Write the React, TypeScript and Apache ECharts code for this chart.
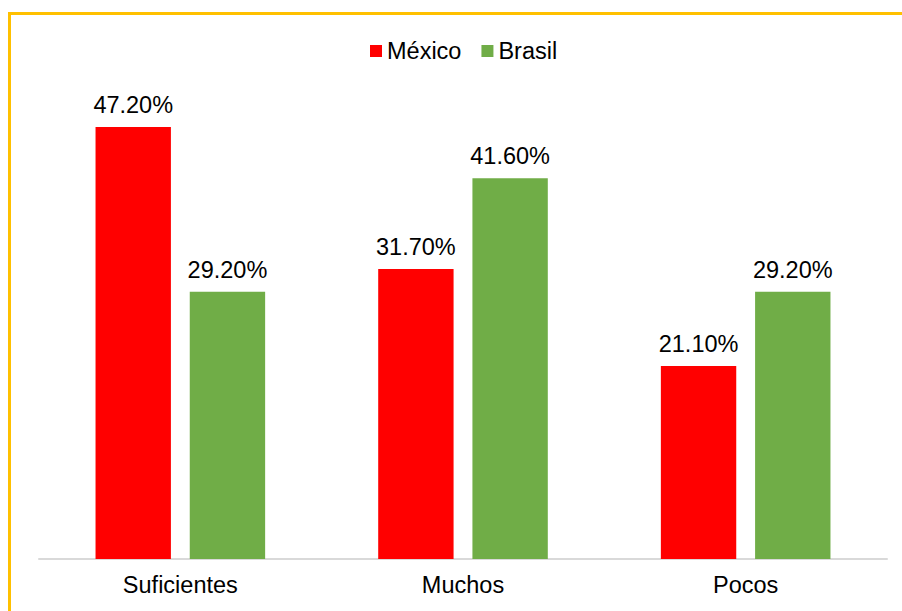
import React, { useEffect, useRef } from "react";
import * as echarts from "echarts";

const categories = ["Suficientes", "Muchos", "Pocos"];
const seriesNames = ["México", "Brasil"];
const mexico = [47.2, 31.7, 21.1];
const brasil = [29.2, 41.6, 29.2];
const colors = ["#FF0000", "#70AD47"];

export default function App() {
  const ref = useRef<HTMLDivElement>(null);
  useEffect(() => {
    const chart = echarts.init(ref.current!, null, { renderer: "svg" });
    const font = "Liberation Sans, Arial, sans-serif";
    const fs = 23.5;
    const label = {
      show: true,
      position: "top",
      distance: 10,
      fontSize: fs,
      fontFamily: font,
      color: "#000",
      formatter: (p: any) => p.value.toFixed(2) + "%",
    };
    chart.setOption({
      animation: false,
      backgroundColor: "#fff",
      graphic: [
        {
          type: "rect",
          shape: { x: 9.5, y: 13.5, width: 1000, height: 1000 },
          style: { fill: "none", stroke: "#FFC000", lineWidth: 3 },
          silent: true,
        },
      ],
      legend: {
        top: 34,
        left: 365,
        itemWidth: 12,
        itemHeight: 12,
        itemGap: 20,
        icon: "rect",
        textStyle: { fontSize: fs, fontFamily: font, color: "#000" },
        data: seriesNames,
      },
      grid: { left: 39, right: 15, top: 101.5, bottom: 52, containLabel: false },
      xAxis: {
        type: "category",
        data: categories,
        axisLine: { lineStyle: { color: "#D9D9D9", width: 2 } },
        axisTick: { show: false },
        axisLabel: { fontSize: fs, fontFamily: font, color: "#000", margin: 14 },
      },
      yAxis: {
        type: "value",
        min: 0,
        max: 50,
        show: false,
        splitLine: { show: false },
      },
      series: [
        {
          name: seriesNames[0],
          type: "bar",
          data: mexico,
          itemStyle: { color: colors[0] },
          barGap: "25%",
          barCategoryGap: "40%",
          label,
        },
        {
          name: seriesNames[1],
          type: "bar",
          data: brasil,
          itemStyle: { color: colors[1] },
          barGap: "25%",
          barCategoryGap: "40%",
          label,
        },
      ],
    });
    return () => chart.dispose();
  }, []);
  return (
    <div
      ref={ref}
      style={{ position: "absolute", left: 0, top: 0, width: 902, height: 611 }}
    />
  );
}
